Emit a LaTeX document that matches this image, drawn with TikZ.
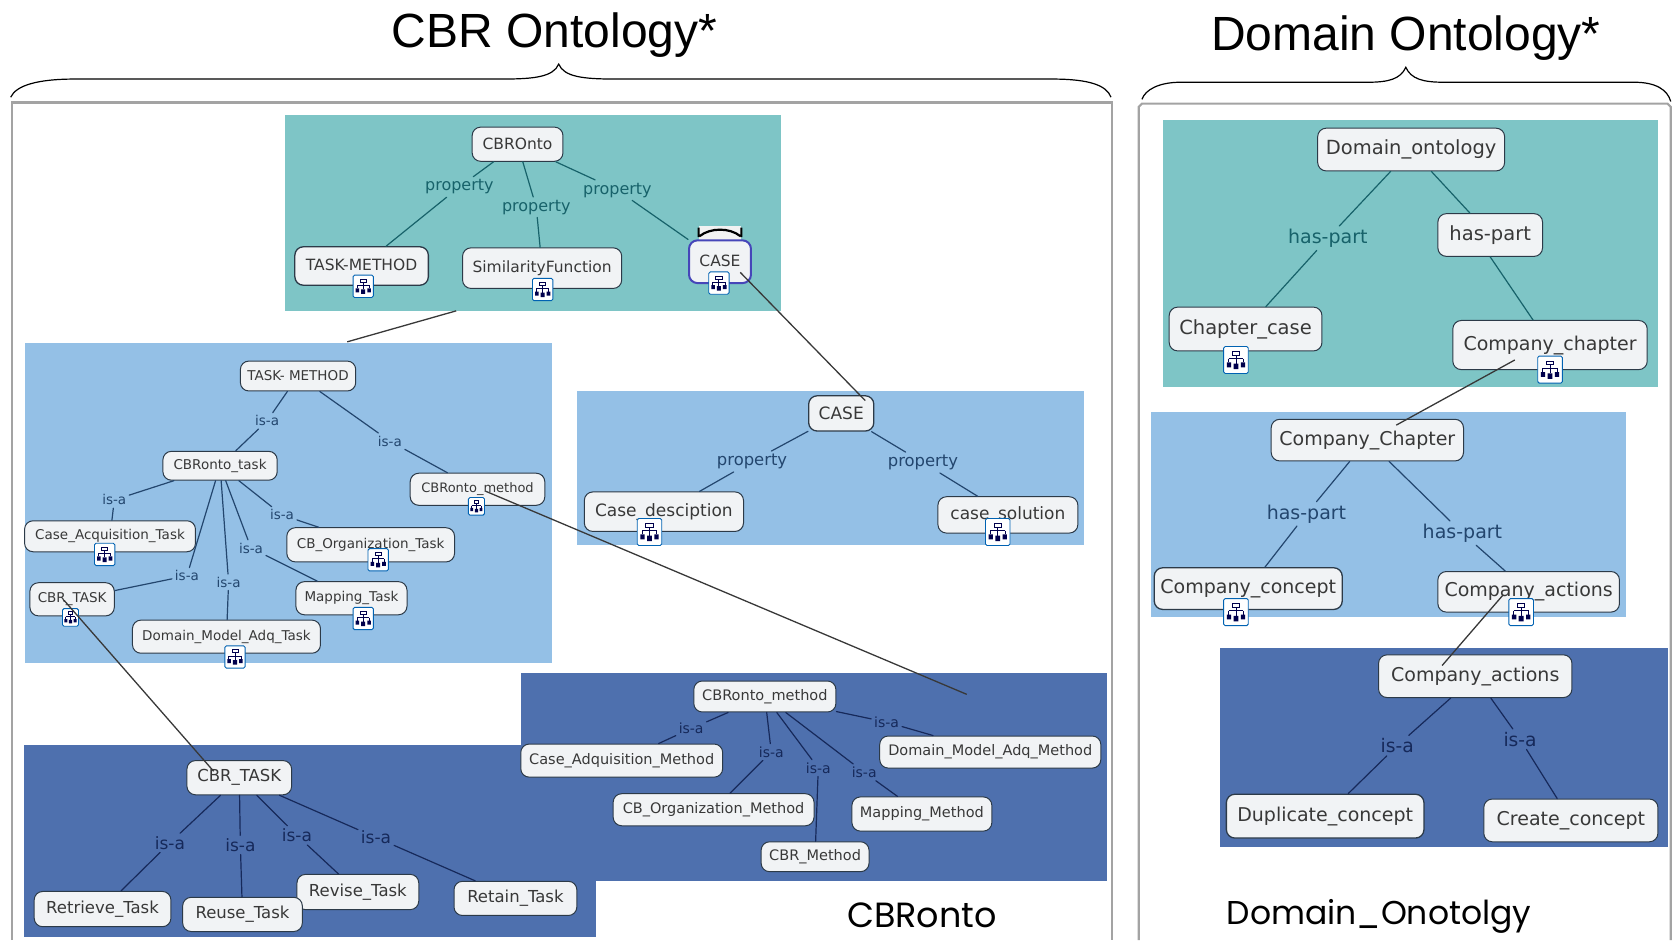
\documentclass[tikz,border=0pt]{standalone}
\usepackage{fontspec}
\setmainfont{DejaVu Sans}
\newfontfamily\arialfam{Liberation Sans}
\newfontfamily\geofam{Poppins}
\newcommand\fsz[1]{\fontsize{#1}{#1}\selectfont}
\def\u{1.06824pt}
\definecolor{tealp}{HTML}{7EC5C6}
\definecolor{bluep}{HTML}{94C0E6}
\definecolor{darkp}{HTML}{4E70AE}
\definecolor{nodefill}{HTML}{F1F3F5}
\definecolor{nodeline}{HTML}{2C3A48}
\definecolor{teall}{HTML}{17626A}
\definecolor{bluel}{HTML}{23466E}
\definecolor{darkl}{HTML}{16295A}
\definecolor{framec}{HTML}{A3A3A3}
\tikzset{
  x=1.06824pt,y=-1.06824pt,
  onto/.style={draw=nodeline,fill=nodefill,rounded corners=8.5pt,line width=1pt,inner sep=0pt,text=black!78,align=center},
  bx/.style 2 args={minimum width=#1*\u,minimum height=#2*\u},
  lab/.style={inner sep=3pt,outer sep=0pt},
  edge/.style={line width=1.2pt,line cap=round},
  cross/.style={line width=1.3pt,draw=black!78},
  ontoicon/.pic={
    \draw[draw=blue!45!cyan!70!black,fill=white,line width=0.9pt,rounded corners=1.5pt] (-10,-11) rectangle (10,11);
    \draw[line width=0.9pt,draw=black!70!blue] (-3,-7) rectangle (3,-4) (0,-4) -- (0,3) (-6,-1) -- (6,-1) (-6,-1) -- (-6,2) (6,-1) -- (6,2);
    \fill[black!70!blue] (-7.5,2) rectangle (-4,6) (4,2) rectangle (7.5,6) (-2,3) rectangle (2,7.5);
  }
}
\begin{document}
\begin{tikzpicture}
\useasboundingbox (0,0) rectangle (1568,880);
% titles and braces
\node[font=\arialfam\fsz{48}] (t1) at (519,33) {CBR Ontology*};
\node[font=\arialfam\fsz{48}] (t2) at (1316,36) {Domain Ontology*};
\draw[line width=1.2pt] (10,91) .. controls (15,80) and (35,74) .. (70,74) -- (470,74) .. controls (500,74) and (518,72) .. (523,60) .. controls (528,72) and (546,74) .. (576,74) -- (985,74) .. controls (1020,74) and (1036,80) .. (1040,91);
\draw[line width=1.2pt] (1069,93) .. controls (1072,84) and (1085,77) .. (1105,77) -- (1280,77) .. controls (1300,77) and (1311,74) .. (1316,63) .. controls (1321,74) and (1332,77) .. (1352,77) -- (1530,77) .. controls (1550,77) and (1561,84) .. (1564,95);
% frames
\draw[framec,line width=2.2pt] (11,880) -- (11,96) -- (1041,96) -- (1041,880);
\draw[framec,line width=2.2pt] (1066,880) -- (1066,100) -- (1069,97) -- (1561,97) -- (1564,100) -- (1564,880);
% panels
\fill[tealp] (267,108) rectangle (731,291);
\fill[bluep] (23,321) rectangle (517,621);
\fill[bluep] (540,366) rectangle (1015,510);
\fill[darkp] (488,630) rectangle (1036,825);
\fill[darkp] (22,697) rectangle (558,877);
\fill[tealp] (1089,112) rectangle (1552,362);
\fill[bluep] (1077,386) rectangle (1522,578);
\fill[darkp] (1142,607) rectangle (1561,793);
% captions
\node[font=\geofam\fsz{35}] (c1) at (863,857) {CBRonto};
\node[font=\geofam\fsz{33}] (c2) at (1291,858) {Domain\_Onotolgy};

% --- CBROnto panel
\begin{scope}[every node/.append style={font=\fsz{15.5}}]
\node[onto,bx={85}{32}] (cbronto) at (484.5,135) {CBROnto};
\node[onto,bx={125}{36},line width=1.3pt] (tm) at (338.5,249) {\raisebox{3pt}{TASK-METHOD}};
\node[onto,bx={149}{38}] (sim) at (507.5,251) {\raisebox{4pt}{SimilarityFunction}};
\fill[white!90!gray] (654,212) rectangle (694,225);
\draw[line width=2.2pt] (654,213) -- (654,222) (694,213) -- (694,222) (655,221) .. controls (665,213) and (683,213) .. (693,221);
\node[onto,bx={58}{40},draw=blue!45!gray,line width=2pt] (case) at (674,245) {\raisebox{2pt}{CASE}};
\end{scope}
\begin{scope}[every node/.append style={font=\fsz{16},text=teall},every path/.append style={edge,draw=teall}]
\node[lab] (p1) at (430,175) {property};
\node[lab] (p2) at (502,194) {property};
\node[lab] (p3) at (578,178) {property};
\draw (cbronto) -- (p1) -- (tm);
\draw (cbronto) -- (p2) -- (sim);
\draw (cbronto) -- (p3) -- (case);
\end{scope}

% --- TASK-METHOD panel
\begin{scope}[every node/.append style={font=\fsz{13.5}}]
\node[onto,bx={108}{28}] (tm2) at (279,352) {TASK- METHOD};
\node[onto,bx={107}{27}] (ctask) at (206,436) {CBRonto\_task};
\node[onto,bx={126}{30},font=\fsz{13}] (cmeth) at (447,458) {\raisebox{2pt}{CBRonto\_method}};
\node[onto,bx={160}{29}] (caq) at (103,502) {\raisebox{1pt}{Case\_Acquisition\_Task}};
\node[onto,bx={157}{32}] (corg) at (347,510) {\raisebox{1pt}{CB\_Organization\_Task}};
\node[onto,bx={79}{31}] (cbrt) at (67.5,561) {CBR\_TASK};
\node[onto,bx={104}{31}] (mapt) at (329,560) {Mapping\_Task};
\node[onto,bx={176}{31}] (dmat) at (212,596) {Domain\_Model\_Adq\_Task};
\end{scope}
\begin{scope}[every node/.append style={font=\fsz{13.5},text=bluel},every path/.append style={edge,draw=bluel}]
\node[lab] (i1) at (250,394) {is-a};
\node[lab] (i2) at (365,413) {is-a};
\node[lab] (i3) at (107,468) {is-a};
\node[lab] (i4) at (264,482) {is-a};
\node[lab] (i5) at (235,513) {is-a};
\node[lab] (i6) at (175,539) {is-a};
\node[lab] (i7) at (214,545) {is-a};
\draw (tm2) -- (i1) -- (ctask);
\draw (tm2) -- (i2) -- (cmeth);
\draw (ctask) -- (i3) -- (caq);
\draw (ctask) -- (i4) -- (corg);
\draw (ctask) -- (i5) -- (mapt);
\draw (ctask) -- (i6) -- (cbrt);
\draw (ctask) -- (i7) -- (dmat);
\end{scope}

% --- CASE panel
\begin{scope}[every node/.append style={font=\fsz{17}}]
\node[onto,bx={61}{33},line width=1.3pt] (case2) at (787.5,387) {CASE};
\node[onto,bx={149}{37}] (cdesc) at (621.5,479) {Case\_desciption};
\node[onto,bx={131}{34}] (csol) at (943.5,482) {case\_solution};
\end{scope}
\begin{scope}[every node/.append style={font=\fsz{16.4},text=bluel},every path/.append style={edge,draw=bluel}]
\node[lab] (p4) at (704,432) {property};
\node[lab] (p5) at (864,433) {property};
\draw (case2) -- (p4) -- (cdesc);
\draw (case2) -- (p5) -- (csol);
\end{scope}

% --- CBRonto_method panel
\begin{scope}[every node/.append style={font=\fsz{14.5}}]
\node[onto,bx={133}{29}] (m0) at (716,652) {CBRonto\_method};
\node[onto,bx={189}{31}] (m1) at (582,712) {Case\_Adquisition\_Method};
\node[onto,bx={188}{30}] (m2) at (668,758) {CB\_Organization\_Method};
\node[onto,bx={131}{32}] (m3) at (863,762) {Mapping\_Method};
\node[onto,bx={207}{30}] (m4) at (927,704) {Domain\_Model\_Adq\_Method};
\node[onto,bx={101}{28}] (m5) at (763,802) {CBR\_Method};
\end{scope}
\begin{scope}[every node/.append style={font=\fsz{14},text=darkl},every path/.append style={edge,draw=darkl}]
\node[lab] (j1) at (647,682) {is-a};
\node[lab] (j2) at (722,704) {is-a};
\node[lab] (j3) at (766,719) {is-a};
\node[lab] (j4) at (809,723) {is-a};
\node[lab] (j5) at (830,676) {is-a};
\draw (m0) -- (j1) -- (m1);
\draw (m0) -- (j2) -- (m2);
\draw (m0) -- (j3) -- (m5);
\draw (m0) -- (j4) -- (m3);
\draw (m0) -- (j5) -- (m4);
\end{scope}

% --- CBR_TASK panel
\begin{scope}[every node/.append style={font=\fsz{16.5}}]
\node[onto,bx={98}{32}] (t0) at (224,728) {CBR\_TASK};
\node[onto,bx={128}{33}] (t1b) at (96,851) {Retrieve\_Task};
\node[onto,bx={114}{33}] (t3) at (335,835) {Revise\_Task};
\node[onto,bx={112}{32}] (t2b) at (227,856) {Reuse\_Task};
\node[onto,bx={115}{32}] (t4) at (482.5,841) {Retain\_Task};
\end{scope}
\begin{scope}[every node/.append style={font=\fsz{17},text=darkl},every path/.append style={edge,draw=darkl}]
\node[lab] (k1) at (159,789) {is-a};
\node[lab] (k2) at (225,791) {is-a};
\node[lab] (k3) at (278,782) {is-a};
\node[lab] (k4) at (352,784) {is-a};
\draw (t0) -- (k1) -- (t1b);
\draw (t0) -- (k2) -- (t2b);
\draw (t0) -- (k3) -- (t3);
\draw (t0) -- (k4) -- (t4);
\end{scope}

% --- Domain ontology: top panel
\begin{scope}[every node/.append style={font=\fsz{19.5}}]
\node[onto,bx={175}{40}] (d0) at (1321,140) {Domain\_ontology};
\node[onto,bx={98}{40}] (hp) at (1395,220) {has-part};
\node[onto,bx={143}{41}] (d1) at (1166,308) {Chapter\_case};
\node[onto,bx={182}{46},font=\fsz{19}] (d2) at (1451,323) {\raisebox{3pt}{Company\_chapter}};
\end{scope}
\begin{scope}[every node/.append style={font=\fsz{19},text=teall},every path/.append style={edge,draw=teall}]
\node[lab] (h1) at (1243,223) {has-part};
\draw (d0) -- (h1) -- (d1);
\draw (d0) -- (hp);
\draw (hp.south) -- (d2);
\end{scope}

% --- Company_Chapter panel
\begin{scope}[every node/.append style={font=\fsz{19}}]
\node[onto,bx={180}{39}] (e0) at (1280,412) {Company\_Chapter};
\node[onto,bx={176}{39},line width=1.3pt] (e1) at (1168.5,551) {Company\_concept};
\node[onto,bx={170}{38}] (e2) at (1431,554) {Company\_actions};
\end{scope}
\begin{scope}[every node/.append style={font=\fsz{19},text=bluel},every path/.append style={edge,draw=bluel}]
\node[lab] (h2) at (1223,481) {has-part};
\node[lab] (h3) at (1369,499) {has-part};
\draw (e0) -- (h2) -- (e1);
\draw (e0) -- (h3) -- (e2);
\end{scope}

% --- Company_actions panel
\begin{scope}[every node/.append style={font=\fsz{19}}]
\node[onto,bx={181}{40}] (f0) at (1381,633) {Company\_actions};
\node[onto,bx={185}{41},line width=1.3pt] (f1) at (1240.5,764) {Duplicate\_concept};
\node[onto,bx={163}{40}] (f2) at (1470.5,768) {Create\_concept};
\end{scope}
\begin{scope}[every node/.append style={font=\fsz{18.7},text=darkl},every path/.append style={edge,draw=darkl}]
\node[lab] (g1) at (1308,698) {is-a};
\node[lab] (g2) at (1423,692) {is-a};
\draw (f0) -- (g1) -- (f1);
\draw (f0) -- (g2) -- (f2);
\end{scope}

% icons
\pic[scale=0.95] at (340,268) {ontoicon};
\pic[scale=0.95] at (508,271) {ontoicon};
\pic[scale=0.95] at (673,265) {ontoicon};
\pic[scale=0.75] at (446,474) {ontoicon};
\pic[scale=0.95] at (98,519) {ontoicon};
\pic[scale=0.95] at (354,524) {ontoicon};
\pic[scale=0.75] at (66,578) {ontoicon};
\pic[scale=0.95] at (340,579) {ontoicon};
\pic[scale=0.95] at (220,615) {ontoicon};
\pic[scale=1.15] at (608,498) {ontoicon};
\pic[scale=1.15] at (934,498) {ontoicon};
\pic[scale=1.15] at (1157,337) {ontoicon};
\pic[scale=1.15] at (1451,346) {ontoicon};
\pic[scale=1.15] at (1157,573) {ontoicon};
\pic[scale=1.15] at (1424,573) {ontoicon};

% links between panels
\coordinate (a1) at (427,291); \coordinate (a2) at (325,320);
\coordinate (b1) at (693,255); \coordinate (b2) at (810,375);
\coordinate (c3) at (455,460); \coordinate (c4) at (905,650);
\coordinate (d3) at (60,562); \coordinate (d4) at (200,722);
\coordinate (e3) at (1418,337); \coordinate (e4) at (1307,398);
\coordinate (f3) at (1407,557); \coordinate (f4) at (1350,623);
\draw[cross] (a1) -- (a2);
\draw[cross] (b1) -- (b2);
\draw[cross] (c3) -- (c4);
\draw[cross] (d3) -- (d4);
\draw[cross] (e3) -- (e4);
\draw[cross] (f3) -- (f4);
\end{tikzpicture}
\end{document}
